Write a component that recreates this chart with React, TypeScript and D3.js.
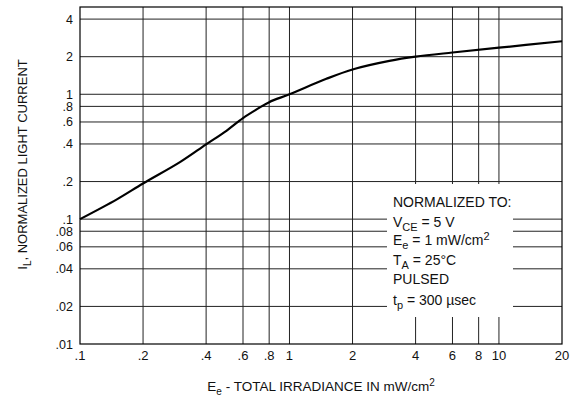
import React from "react";
import * as d3 from "d3";

const irradiance = [0.1, 0.15, 0.2, 0.3, 0.4, 0.5, 0.6, 0.7, 0.8, 1.0, 1.5, 2.0, 3.0, 4.0, 6.0, 10.0, 20.0];
const current = [0.1, 0.144, 0.193, 0.286, 0.397, 0.51, 0.645, 0.76, 0.865, 1.0, 1.33, 1.58, 1.85, 2.0, 2.16, 2.36, 2.66];

const xTicks = [0.1, 0.2, 0.4, 0.6, 0.8, 1, 2, 4, 6, 8, 10, 20];
const xTickLabels = [".1", ".2", ".4", ".6", ".8", "1", "2", "4", "6", "8", "10", "20"];
const yTicks = [0.01, 0.02, 0.04, 0.06, 0.08, 0.1, 0.2, 0.4, 0.6, 0.8, 1, 2, 4];
const yTickLabels = [".01", ".02", ".04", ".06", ".08", ".1", ".2", ".4", ".6", ".8", "1", "2", "4"];

const W = 577;
const H = 411;
const left = 80, right = 562, top = 7, bottom = 344;
const box = { x0: 387, x1: 513, y0: 184, y1: 317 };
const FONT = "'Liberation Sans', Arial, Helvetica, sans-serif";

export default function App() {
  const x = d3.scaleLog().domain([0.1, 20]).range([left, right]);
  const y = d3.scaleLog().domain([0.01, 5]).range([bottom, top]);
  const pts: [number, number][] = irradiance.map((v, i) => [x(v), y(current[i])]);
  const line = d3.line().curve(d3.curveCatmullRom.alpha(0.5))(pts) || "";
  const grid = "#222";

  return (
    <svg width={W} height={H} style={{ position: "absolute", left: 0, top: 0, background: "#fff" }} fontFamily={FONT}>
      <rect x={0} y={0} width={W} height={H} fill="#fff" />
      {xTicks.slice(1, -1).map((t) => (
        <line key={"vx" + t} x1={x(t)} x2={x(t)} y1={top} y2={bottom} stroke={grid} strokeWidth={1} />
      ))}
      {yTicks.slice(1).map((t) => (
        <line key={"hy" + t} x1={left} x2={right} y1={y(t)} y2={y(t)} stroke={grid} strokeWidth={1} />
      ))}
      <rect x={box.x0} y={box.y0} width={box.x1 - box.x0} height={box.y1 - box.y0} fill="#fff" />
      <rect x={left} y={top} width={right - left} height={bottom - top} fill="none" stroke="#000" strokeWidth={1.2} />
      <path d={line} fill="none" stroke="#000" strokeWidth={2.2} strokeLinejoin="round" />
      {yTicks.map((t, i) => (
        <text key={"yl" + t} x={73} y={y(t)} dy="0.36em" textAnchor="end" fontSize={12.5} fill="#111">
          {yTickLabels[i]}
        </text>
      ))}
      {xTicks.map((t, i) => (
        <text key={"xl" + t} x={x(t)} y={360} textAnchor="middle" fontSize={13} fill="#111">
          {xTickLabels[i]}
        </text>
      ))}
      <text x={(left + right) / 2} y={391} textAnchor="middle" fontSize={13.5} fill="#111">
        E<tspan fontSize={10} dy={4}>e</tspan>
        <tspan dy={-4}> - TOTAL IRRADIANCE IN mW/cm</tspan>
        <tspan fontSize={10} dy={-5}>2</tspan>
      </text>
      <text transform="translate(27,164.5) rotate(-90)" textAnchor="middle" fontSize={13} fill="#111">
        I<tspan fontSize={10} dy={4}>L</tspan>
        <tspan dy={-4}>, NORMALIZED LIGHT CURRENT</tspan>
      </text>
      <g fontSize={14} fill="#111">
        <text x={393} y={206.5}>NORMALIZED TO:</text>
        <text x={393} y={226.5}>
          V<tspan fontSize={11} dy={4}>CE</tspan>
          <tspan dy={-4}> = 5 V</tspan>
        </text>
        <text x={393} y={245}>
          E<tspan fontSize={11} dy={4}>e</tspan>
          <tspan dy={-4}> = 1 mW/cm</tspan>
          <tspan fontSize={11} dy={-5}>2</tspan>
        </text>
        <text x={393} y={265}>
          T<tspan fontSize={11} dy={4}>A</tspan>
          <tspan dy={-4}> = 25°C</tspan>
        </text>
        <text x={393} y={284}>PULSED</text>
        <text x={393} y={305}>
          t<tspan fontSize={11} dy={4}>p</tspan>
          <tspan dy={-4}> = 300 µsec</tspan>
        </text>
      </g>
    </svg>
  );
}
